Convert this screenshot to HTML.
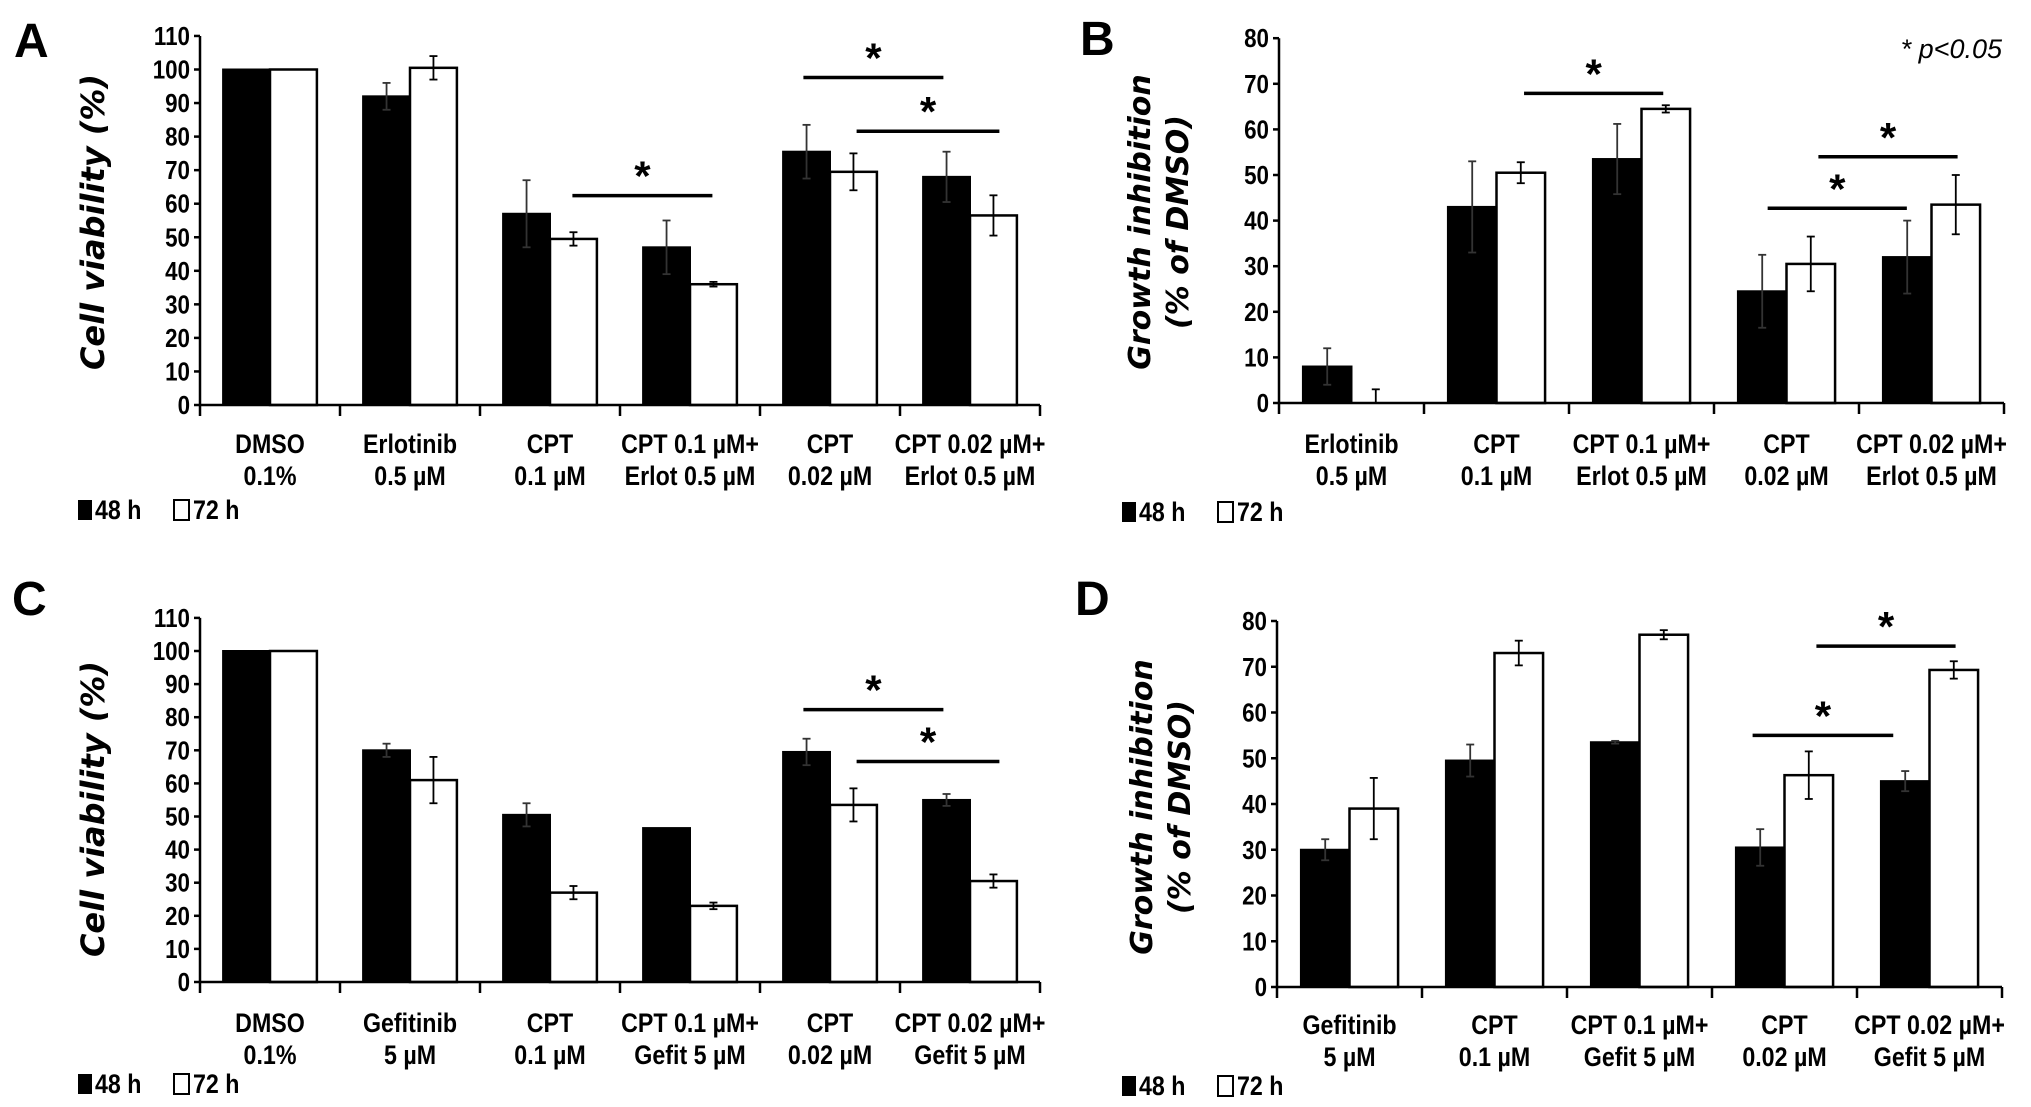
<!DOCTYPE html>
<html><head><meta charset="utf-8"><style>
body{margin:0;background:#fff}
svg{display:block}
text{font-family:"Liberation Sans Narrow","Liberation Sans",sans-serif;font-weight:bold;fill:#000}
.yt{font-family:"DejaVu Sans","Liberation Sans",sans-serif;font-style:oblique;font-weight:bold}
</style></head><body>
<svg id="fig" width="2031" height="1107" viewBox="0 0 2031 1107"></svg>
<script>
// Panel A
const catsA=[["DMSO","0.1%"],["Erlotinib","0.5 µM"],["CPT","0.1 µM"],["CPT 0.1 µM+","Erlot 0.5 µM"],["CPT","0.02 µM"],["CPT 0.02 µM+","Erlot 0.5 µM"]];
const h48A=[100,92,57,47,75.5,68];
const e48A=[0,4,10,8,8,7.5];
const h72A=[100,100.5,49.5,36,69.5,56.5];
const e72A=[0,3.5,2,0.7,5.5,6];
const ticksA=[0,10,20,30,40,50,60,70,80,90,100,110];
const sigA=[[2.66,3.66,62.4],[4.31,5.31,97.6],[4.69,5.71,81.6]];
// Panel B
const catsB=[["Erlotinib","0.5 µM"],["CPT","0.1 µM"],["CPT 0.1 µM+","Erlot 0.5 µM"],["CPT","0.02 µM"],["CPT 0.02 µM+","Erlot 0.5 µM"]];
const h48B=[8,43,53.5,24.5,32];
const e48B=[4,10,7.7,8,8];
const h72B=[0,50.5,64.5,30.5,43.5];
const e72B=[3,2.3,0.8,6,6.5];
const ticksB=[0,10,20,30,40,50,60,70,80];
const sigB=[[1.69,2.65,67.9],[3.72,4.68,54],[3.37,4.33,42.7]];
// Panel C
const catsC=[["DMSO","0.1%"],["Gefitinib","5 µM"],["CPT","0.1 µM"],["CPT 0.1 µM+","Gefit 5 µM"],["CPT","0.02 µM"],["CPT 0.02 µM+","Gefit 5 µM"]];
const h48C=[100,70,50.5,46.5,69.5,55];
const e48C=[0,2,3.5,0,4,1.8];
const h72C=[100,61,27,23,53.5,30.5];
const e72C=[0,7,2,1,5,2];
const ticksC=[0,10,20,30,40,50,60,70,80,90,100,110];
const sigC=[[4.31,5.31,82.3],[4.69,5.71,66.6]];
// Panel D
const catsD=[["Gefitinib","5 µM"],["CPT","0.1 µM"],["CPT 0.1 µM+","Gefit 5 µM"],["CPT","0.02 µM"],["CPT 0.02 µM+","Gefit 5 µM"]];
const h48D=[30,49.5,53.5,30.5,45];
const e48D=[2.3,3.5,0.3,4,2.2];
const h72D=[39,73,77,46.3,69.3];
const e72D=[6.7,2.7,1,5.2,1.9];
const ticksD=[0,10,20,30,40,50,60,70,80];
const sigD=[[3.72,4.68,74.5],[3.28,4.25,55]];

const NS="http://www.w3.org/2000/svg";
const svg=document.getElementById('fig');
function mk(tag,at,parent,txt){const e=document.createElementNS(NS,tag);for(const k in at)e.setAttribute(k,at[k]);if(txt!==undefined)e.textContent=txt;(parent||svg).appendChild(e);return e;}
function ntext(x,y,fs,anchor,parent,txt){
  return mk('text',{x:0,y:0,'font-size':fs,'text-anchor':anchor,transform:`translate(${x},${y}) scale(0.86,1)`},parent,txt);
}

function panel(p){
  const g=mk('g',{});
  
  
  const y=v=>p.y0-v*p.py;
  const n=p.cats.length, gw=p.gw;
  const xEnd=p.x0+n*gw;
  const L=mk('text',{x:p.lx,y:p.ly,'font-size':48,style:'font-family:"Liberation Sans",sans-serif'},g,p.id);
  
  
  for(let i=0;i<n;i++){
    const bx=p.x0+i*gw+0.165*gw, bw=0.335*gw;
    const b1=mk('rect',{x:bx,y:y(p.h48[i]),width:bw,height:p.y0-y(p.h48[i]),fill:'#000',stroke:'#000','stroke-width':2},g);
    
    
    const b2=mk('rect',{x:bx+bw,y:y(p.h72[i]),width:bw,height:p.y0-y(p.h72[i]),fill:'#fff',stroke:'#000','stroke-width':2.5},g);
    
    
    [[bx+bw/2,p.h48[i],p.e48[i],'#333'],[bx+1.5*bw,p.h72[i],p.e72[i],'#000']].forEach(([cx,v,e,c])=>{
      if(e<=0)return;
      const eg=mk('g',{stroke:c,'stroke-width':1.8},g);
      
      
      mk('line',{x1:cx,x2:cx,y1:y(v+e),y2:y(Math.max(0,v-e))},eg);
      mk('line',{x1:cx-4,x2:cx+4,y1:y(v+e),y2:y(v+e)},eg);
      if(v-e>0)mk('line',{x1:cx-4,x2:cx+4,y1:y(v-e),y2:y(v-e)},eg);
    });
    const c1=ntext(p.x0+(i+0.5)*gw,p.cy1,27,'middle',g,p.cats[i][0]);
    
    
    const c2=ntext(p.x0+(i+0.5)*gw,p.cy1+32,27,'middle',g,p.cats[i][1]);
    
    
  }
  const ax=mk('g',{stroke:'#000','stroke-width':2.5},g);
  
  
  mk('line',{x1:p.x0,x2:p.x0,y1:y(p.ticks[p.ticks.length-1]),y2:p.y0+11},ax);
  mk('line',{x1:p.x0,x2:xEnd,y1:p.y0,y2:p.y0},ax);
  for(let i=1;i<=n;i++)mk('line',{x1:p.x0+i*gw,x2:p.x0+i*gw,y1:p.y0,y2:p.y0+11},ax);
  p.ticks.forEach(t=>{
    mk('line',{x1:p.x0-6,x2:p.x0,y1:y(t),y2:y(t)},ax);
    const tl=ntext(p.x0-10,y(t)+9,26,'end',g,t);
    
    
  });
  p.sig.forEach(s=>{
    const sx1=p.x0+s[0]*gw, sx2=p.x0+s[1]*gw, sy=y(s[2]);
    const sl=mk('line',{x1:sx1,x2:sx2,y1:sy,y2:sy,stroke:'#000','stroke-width':3.5},g);
    
    
    const st=mk('text',{x:(sx1+sx2)/2,y:sy-5,'font-size':42,'text-anchor':'middle',style:'font-family:"Liberation Sans",sans-serif'},g,'*');
    
    
  });
  const yt=mk('g',{transform:`translate(${p.tx},${p.ty}) rotate(-90)`},g);
  
  
  p.title.forEach((t,k)=>mk('text',{class:'yt',x:0,y:k*38,'font-size':p.tfs,'text-anchor':'middle'},yt,t));
  const lg=mk('g',{},g);
  
  
  mk('rect',{x:p.legx,y:p.legy-19,width:14,height:20,fill:'#000'},lg);
  ntext(p.legx+17,p.legy,27,'start',lg,'48 h');
  mk('rect',{x:p.legx+96,y:p.legy-19,width:15,height:20,fill:'#fff',stroke:'#000','stroke-width':2},lg);
  ntext(p.legx+115,p.legy,27,'start',lg,'72 h');
}
panel({id:'A',cats:catsA,h48:h48A,e48:e48A,h72:h72A,e72:e72A,ticks:ticksA,sig:sigA,x0:200,y0:405,py:3.355,gw:140,cy1:453,lx:14,ly:57,tx:104,ty:222,tfs:32,title:['Cell viability (%)'],legx:78,legy:519});
panel({id:'B',cats:catsB,h48:h48B,e48:e48B,h72:h72B,e72:e72B,ticks:ticksB,sig:sigB,x0:1279,y0:403,py:4.56,gw:145,cy1:453,lx:1080,ly:55,tx:1150,ty:222,tfs:30,title:['Growth inhibition','(% of DMSO)'],legx:1122,legy:521});
panel({id:'C',cats:catsC,h48:h48C,e48:e48C,h72:h72C,e72:e72C,ticks:ticksC,sig:sigC,x0:200,y0:982,py:3.31,gw:140,cy1:1032,lx:12,ly:615,tx:104,ty:809,tfs:32,title:['Cell viability (%)'],legx:78,legy:1093});
panel({id:'D',cats:catsD,h48:h48D,e48:e48D,h72:h72D,e72:e72D,ticks:ticksD,sig:sigD,x0:1277,y0:987,py:4.575,gw:145,cy1:1034,lx:1075,ly:615,tx:1152,ty:807,tfs:30,title:['Growth inhibition','(% of DMSO)'],legx:1122,legy:1095});
const pv=mk('text',{x:2002,y:58,'font-size':27,'text-anchor':'end',style:'font-family:"Liberation Sans",sans-serif;font-style:italic;font-weight:normal'},svg,'* p<0.05');


</script>
</body></html>
